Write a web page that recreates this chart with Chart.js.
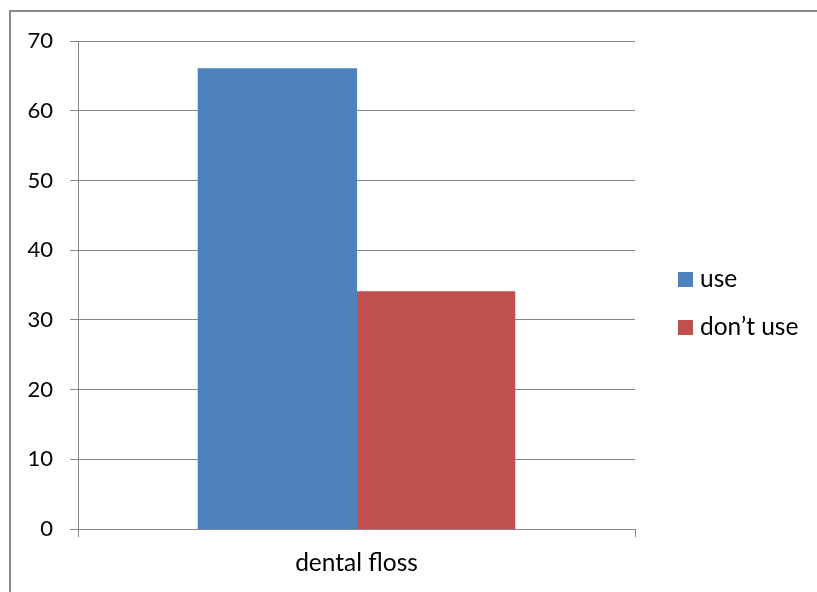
<!DOCTYPE html>
<html>
<head>
<meta charset="utf-8">
<script src="https://cdn.jsdelivr.net/npm/chart.js@4/dist/chart.umd.min.js"></script>
<style>
  html, body { margin: 0; padding: 0; background: #fff; overflow: hidden; }
  canvas { display: block; }
</style>
</head>
<body>
<canvas id="c" width="817" height="592"></canvas>
<script>
// Survey: dental floss usage (percent)
const categories = ['dental floss'];
const seriesNames = ['use', 'don\u2019t use'];
const useValues = [66];
const dontUseValues = [34];
const yTicks = [0, 10, 20, 30, 40, 50, 60, 70];

const FONT = 'Lato, "Open Sans", sans-serif';
const GRID = '#868686';

// Outer frame of the chart box; its right and bottom edges run past the canvas
const outerFrame = {
  id: 'outerFrame',
  beforeDraw(chart) {
    const ctx = chart.ctx;
    ctx.save();
    ctx.fillStyle = '#fff';
    ctx.fillRect(0, 0, chart.width, chart.height);
    ctx.strokeStyle = '#8a8a8a';
    ctx.lineWidth = 2;
    ctx.beginPath();
    ctx.moveTo(10, chart.height + 5);
    ctx.lineTo(10, 11);
    ctx.lineTo(chart.width + 5, 11);
    ctx.stroke();
    ctx.restore();
  }
};

// Legend drawn beside the plot, one square swatch per dataset
const sideLegend = {
  id: 'sideLegend',
  afterDraw(chart, args, opts) {
    const ctx = chart.ctx;
    ctx.save();
    ctx.font = opts.fontSize + 'px ' + FONT;
    ctx.textBaseline = 'middle';
    ctx.textAlign = 'left';
    chart.data.datasets.forEach((ds, i) => {
      const y = opts.top + i * opts.spacing;
      ctx.fillStyle = ds.backgroundColor;
      ctx.fillRect(opts.left, y, opts.box, opts.box);
      ctx.fillStyle = '#000';
      ctx.fillText(ds.label, opts.left + opts.box + 7, y + opts.box / 2);
    });
    ctx.restore();
  }
};

new Chart(document.getElementById('c'), {
  type: 'bar',
  data: {
    labels: categories,
    datasets: [
      { label: seriesNames[0], data: useValues, backgroundColor: '#4F81BD', borderWidth: 0, inflateAmount: 0.6 },
      { label: seriesNames[1], data: dontUseValues, backgroundColor: '#C0504D', borderWidth: 0, inflateAmount: 0.6 }
    ]
  },
  options: {
    responsive: false,
    animation: false,
    events: [],
    layout: { padding: { left: 0, top: 41, right: 182, bottom: 0 } },
    datasets: { bar: { categoryPercentage: 0.568, barPercentage: 1.0 } },
    scales: {
      x: {
        grid: { offset: true, drawOnChartArea: false, drawTicks: true, tickLength: 8, color: GRID, lineWidth: 1 },
        border: { display: true, color: GRID, width: 1 },
        ticks: { font: { family: FONT, size: 24.5 }, color: '#000', padding: 11 },
        afterFit(scale) { scale.height = 63; }
      },
      y: {
        min: 0, max: 70,
        afterBuildTicks(scale) { scale.ticks = yTicks.map(v => ({ value: v })); },
        grid: { color: GRID, lineWidth: 1, tickLength: 8, drawTicks: true },
        border: { display: true, color: GRID, width: 1 },
        ticks: { font: { family: FONT, size: 22 }, color: '#000', padding: 17 },
        afterFit(scale) { scale.width = 78; }
      }
    },
    plugins: {
      legend: { display: false },
      tooltip: { enabled: false },
      sideLegend: { left: 678, top: 272, spacing: 48, box: 15, fontSize: 24.5 }
    }
  },
  plugins: [outerFrame, sideLegend]
});
</script>
</body>
</html>
